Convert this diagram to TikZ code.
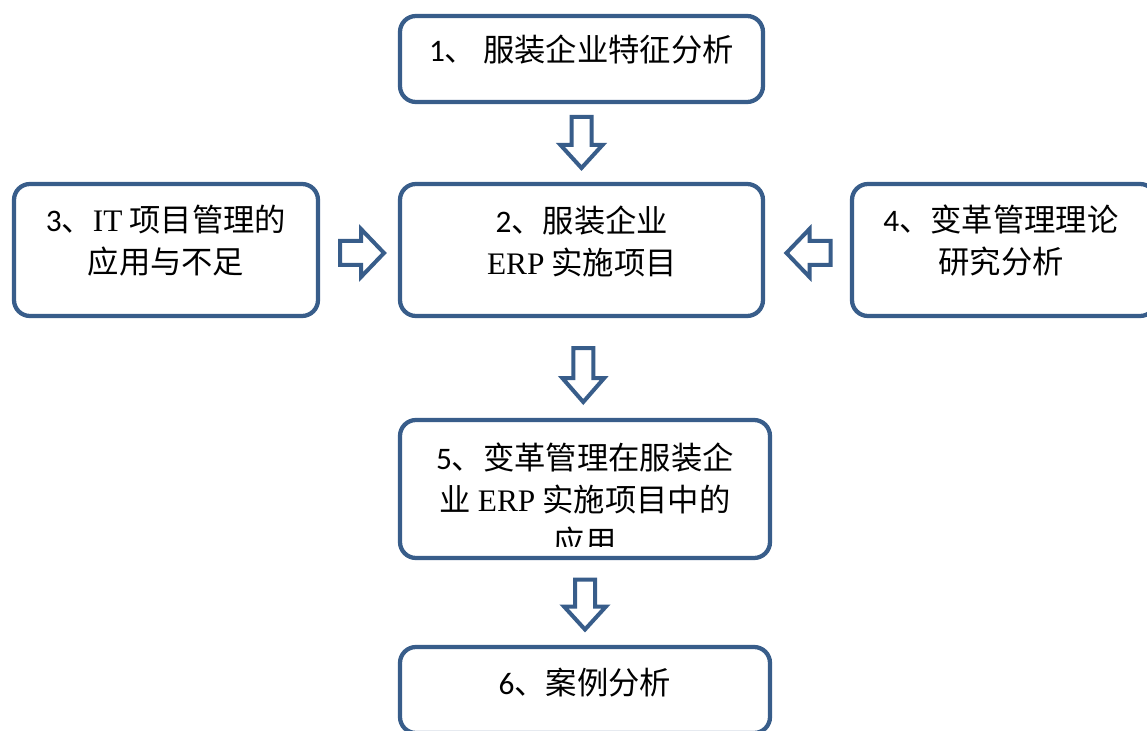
\documentclass[tikz,border=0pt]{standalone}
\usepackage{fontspec}
\setmainfont{Liberation Serif}
\newfontfamily\cjk{Noto Sans CJK SC}
\newfontfamily\dgfont{Carlito}
\newcommand\dg[1]{{\dgfont #1}}
\newcommand\lat[1]{{\rmfamily #1}}
\usetikzlibrary{calc}
\definecolor{boxblue}{RGB}{56,93,138}
\tikzset{
  box/.style={draw=boxblue, line width=3.2pt, rounded corners=12pt, fill=white, inner sep=0pt},
  txt/.style={align=center, inner sep=0pt, text=black, font=\cjk\fontsize{23.5}{31.5}\selectfont},
  blk/.style={draw=boxblue, line width=3pt, fill=white, line join=miter},
}
\begin{document}
\begin{tikzpicture}[x=0.75pt, y=-0.75pt]
\useasboundingbox (0,0) rectangle (1147,731);
\fill[white] (0,0) rectangle (1147,731);
% boxes
\node[box, minimum width=272.25pt, minimum height=64.5pt] (b1) at (581.5,59) {};
\node[box, minimum width=272.25pt, minimum height=99pt] (b2) at (581.5,250) {};
\node[box, minimum width=228pt, minimum height=99pt] (b3) at (166,250) {};
\node[box, minimum width=228pt, minimum height=99pt] (b4) at (1004,250) {};
\node[box, minimum width=277.5pt, minimum height=103.5pt] (b5) at (585,489) {};
\node[box, minimum width=277.5pt, minimum height=64.5pt] (b6) at (585,690) {};
% texts
\node[txt] (t1) at (581.5,50) {\dg{1}、 服装企业特征分析};
\node[txt] (t2) at (582,241) {\dg{2}、服装企业\\\lat{ERP} 实施项目};
\node[txt] (t3) at (166,241) {\dg{3}、\lat{IT} 项目管理的\\应用与不足};
\node[txt] (t4) at (1001,241) {\dg{4}、变革管理理论\\研究分析};
\begin{scope}
  \clip (400,420) rectangle (770,546);
  \node[txt] (t5) at (585,500) {\dg{5}、变革管理在服装企\\业 \lat{ERP} 实施项目中的\\应用};
\end{scope}
\node[txt] (t6) at (585,683) {\dg{6}、案例分析};
% block arrows
\coordinate (a1) at ($(b1.south)!0.5!(b2.north)$);
\coordinate (a2) at ($(b2.south)!0.5!(b5.north)+(0,7)$);
\coordinate (a3) at ($(b5.south)!0.5!(b6.north)+(0,2)$);
\coordinate (a4) at ($(b3.east)!0.5!(b2.west)+(3,3)$);
\coordinate (a5) at ($(b2.east)!0.5!(b4.west)+(1,3)$);
\draw[blk, shift={(a1)}] (-10,-26) -- (10,-26) -- (10,2) -- (21,2) -- (0,25) -- (-21,2) -- (-10,2) -- cycle;
\draw[blk, shift={(a2)}] (-10,-27) -- (10,-27) -- (10,3) -- (21,3) -- (0,27) -- (-21,3) -- (-10,3) -- cycle;
\draw[blk, shift={(a3)}] (-10,-25) -- (10,-25) -- (10,2) -- (21,2) -- (0,25) -- (-21,2) -- (-10,2) -- cycle;
\draw[blk, shift={(a4)}] (-22,-12) -- (-1,-12) -- (-1,-24) -- (22,0) -- (-1,24) -- (-1,12) -- (-22,12) -- cycle;
\draw[blk, shift={(a5)}] (22,-12) -- (1,-12) -- (1,-24) -- (-22,0) -- (1,24) -- (1,12) -- (22,12) -- cycle;
\end{tikzpicture}
\end{document}
